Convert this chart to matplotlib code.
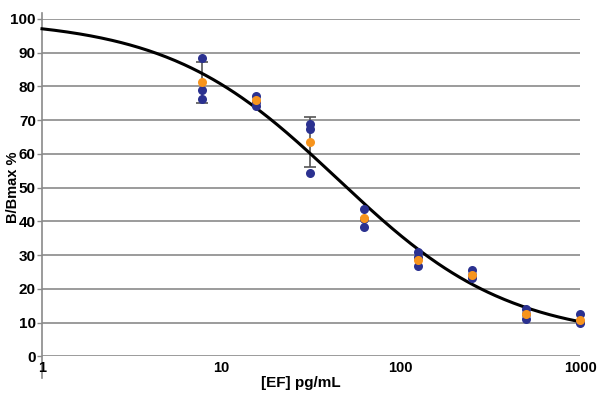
import numpy as np
import matplotlib
matplotlib.use('Agg')
import matplotlib.pyplot as plt

plt.rcParams['font.family'] = ['Liberation Sans', 'DejaVu Sans']

# ── 数据────────────────────────────────────────────
conc   = [7.8, 15.6, 31.25, 62.5, 125, 250, 500, 1000]      # pg/mL
rep_a  = [88.3, 77.2, 68.8, 43.7, 31.0, 25.6, 14.2, 12.5]
rep_b  = [78.9, 75.5, 67.3, 40.6, 29.6, 24.2, 12.7, 10.2]
rep_c  = [76.3, 74.3, 54.5, 38.3, 26.9, 23.4, 11.1, 10.0]
mean_v = [81.2, 76.0, 63.5, 40.9, 28.6, 24.1, 12.7, 10.8]
# 误差线：只有两组在图中可见，其余被圆点遮住
sd_v   = [6.2, None, 7.4, None, None, None, None, None]

# 四参数 logistic 拟合曲线参数
top, bottom, ec50, hill = 100.0, 5.0, 44.7, 0.91

xticks = [1, 10, 100, 1000]
yticks = list(range(0, 101, 10))

BLUE, ORANGE, GRID = '#2b3190', '#f7941d', '#8a8a8a'

fig = plt.figure(figsize=(6.0, 3.94), dpi=100)
fig.patch.set_facecolor('white')
ax = fig.add_axes([0.07, 0.0952, 0.8967, 0.8566])

ax.set_xscale('log')
ax.set_xlim(1, 1000)
ax.set_ylim(0, 100)

for y in yticks:
    ax.axhline(y, color=GRID, lw=1.2, zorder=1)

# 拟合曲线
xfit = np.logspace(0, 3, 300)
yfit = bottom + (top - bottom) / (1 + (xfit / ec50) ** hill)
ax.plot(xfit, yfit, color='black', lw=2.2, zorder=3, clip_on=False)

# 误差线
idx = [i for i, s in enumerate(sd_v) if s is not None]
ax.errorbar([conc[i] for i in idx], [mean_v[i] for i in idx],
            yerr=[sd_v[i] for i in idx], fmt='none', ecolor='#555555',
            elinewidth=1.2, capsize=4, capthick=1.2, zorder=2)

# 重复测量点与均值
for rep in (rep_a, rep_b, rep_c):
    ax.plot(conc, rep, 'o', color=BLUE, ms=6.5, mec='none', zorder=4,
            clip_on=False)
ax.plot(conc, mean_v, 'o', color=ORANGE, ms=6.5, mec='none', zorder=5,
        clip_on=False)

# 坐标轴样式
for s in ['top', 'right', 'bottom', 'left']:
    ax.spines[s].set_visible(False)
ax.plot([1, 1], [-6.5, 101.8], color=GRID, lw=1.2, clip_on=False, zorder=1)

ax.set_yticks(yticks)
ax.set_yticklabels([str(v) for v in yticks], fontsize=11, fontweight='bold')
ax.tick_params(axis='y', length=3.5, width=1.0, color=GRID, pad=1)
ax.set_xticks(xticks)
ax.set_xticklabels([str(v) for v in xticks], fontsize=10.5, fontweight='bold')
ax.xaxis.set_minor_locator(matplotlib.ticker.NullLocator())
ax.tick_params(axis='x', length=0, pad=3)

fig.text(0.022, 0.524, 'B/Bmax %', rotation=90, ha='center', va='center',
         fontsize=10.5, fontweight='bold')
fig.text(0.502, 0.028, '[EF] pg/mL', ha='center', va='center',
         fontsize=11, fontweight='bold')

fig.savefig('out.png', dpi=100, facecolor='white')
